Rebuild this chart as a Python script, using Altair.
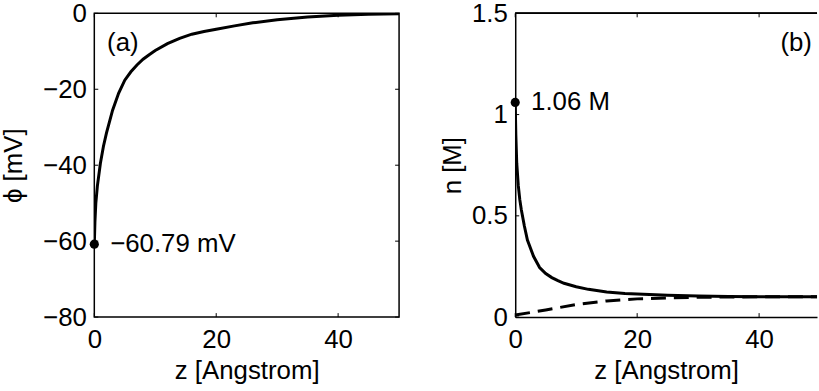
import altair as alt
import pandas as pd

# ---- data ----
phi_z = [0, 0.1, 0.25, 0.5, 1, 1.5, 2, 3, 4, 5, 6, 7, 8, 9, 10, 12, 14, 16, 18, 20, 23, 26, 30, 35, 40, 45, 50]
phi_v = [-60.79, -55, -50, -45.5, -39.5, -35, -31.5, -25.5, -21, -17.6, -15.4, -13.6, -12.1, -10.9, -9.8,
         -8.0, -6.6, -5.5, -4.8, -4.2, -3.3, -2.5, -1.7, -0.95, -0.5, -0.25, -0.12]

n_z = [0, 0.1, 0.25, 0.5, 0.75, 1, 1.5, 2, 3, 4, 5, 6, 7, 8, 10, 12, 15, 18, 20, 25, 30, 35, 40, 50]
n_solid = [1.06, 0.9, 0.76, 0.65, 0.58, 0.53, 0.45, 0.38, 0.30, 0.245, 0.215, 0.195, 0.18, 0.167,
           0.15, 0.137, 0.124, 0.117, 0.114, 0.108, 0.104, 0.102, 0.101, 0.1]
nd_z = [0, 5, 10, 15, 20, 25, 30, 35, 40, 50]
n_dashed = [0.01, 0.035, 0.062, 0.08, 0.09, 0.095, 0.098, 0.099, 0.1, 0.1]

x_ticks = [0, 20, 40]
phi_ticks = [-80, -60, -40, -20, 0]
n_ticks = [0, 0.5, 1, 1.5]

WL, WR, H = 307, 304, 306
FONT = "Liberation Sans"
FS = 26
TK = 4  # inward tick length

phi_df = pd.DataFrame({"z": phi_z, "phi": phi_v})
ns_df = pd.DataFrame({"z": n_z, "n": n_solid})
nd_df = pd.DataFrame({"z": nd_z, "n": n_dashed})
pt_a = pd.DataFrame({"z": [0], "phi": [-60.79], "t": ["\u221260.79 mV"]})
pt_b = pd.DataFrame({"z": [0], "n": [1.06], "t": ["1.06 M"]})
lab_a = pd.DataFrame({"z": [2.1], "phi": [-7.8], "t": ["(a)"]})
lab_b = pd.DataFrame({"z": [43.5], "n": [1.353], "t": ["(b)"]})
xt_df = pd.DataFrame({"v": x_ticks})
pt_df = pd.DataFrame({"v": phi_ticks})
nt_df = pd.DataFrame({"v": n_ticks})

xscaleL = alt.Scale(domain=[0, 50], nice=False, zero=False)
xscaleR = alt.Scale(domain=[0, 49.5], nice=False, zero=False)
yscaleL = alt.Scale(domain=[-80, 0], nice=False)
yscaleR = alt.Scale(domain=[0, 1.5], nice=False)

def xaxis(domain):
    return alt.Axis(values=x_ticks, title="z [Angstrom]", grid=False, ticks=False, domain=domain,
                    domainColor="black", domainWidth=1.5, labelFlush=False, labelPadding=10,
                    titlePadding=5, labelFont=FONT, titleFont=FONT, labelFontSize=FS,
                    titleFontSize=FS, titleFontWeight="normal", labelColor="black", titleColor="black")

def yaxis(vals, title, fmt, tpad, domain):
    return alt.Axis(values=vals, title=title, grid=False, ticks=False, domain=domain, format=fmt,
                    domainColor="black", domainWidth=1.5, labelPadding=8, titlePadding=tpad,
                    labelFont=FONT, titleFont=FONT, labelFontSize=FS, titleFontSize=FS,
                    titleFontWeight="normal", labelColor="black", titleColor="black")

# ---------- panel (a) ----------
AXA_X = xaxis(False)
AXA_Y = yaxis(phi_ticks, "\u03d5 [mV]", "d", 16, False)
XA = alt.X("z:Q", scale=xscaleL, axis=AXA_X)
YA = alt.Y("phi:Q", scale=yscaleL, axis=AXA_Y)

a_line = alt.Chart(phi_df).mark_line(color="black", strokeWidth=3, clip=True).encode(x=XA, y=YA)
a_pt = alt.Chart(pt_a).mark_point(filled=True, color="black", size=85, opacity=1).encode(x=XA, y=YA)
a_txt = alt.Chart(pt_a).mark_text(align="left", baseline="middle", dx=16, font=FONT, fontSize=FS,
                                   color="black").encode(x=XA, y=YA, text="t:N")
a_lab = alt.Chart(lab_a).mark_text(align="left", baseline="middle", font=FONT, fontSize=FS,
                                   color="black").encode(x=XA, y=YA, text="t:N")
XTL = alt.X("v:Q", scale=xscaleL, axis=AXA_X)
YTL = alt.Y("v:Q", scale=yscaleL, axis=AXA_Y)
a_tb = alt.Chart(xt_df).mark_rule(color="black", strokeWidth=1).encode(x=XTL, y=alt.value(H), y2=alt.value(H - TK))
a_tt = alt.Chart(xt_df).mark_rule(color="black", strokeWidth=1).encode(x=XTL, y=alt.value(0), y2=alt.value(TK))
a_tl = alt.Chart(pt_df).mark_rule(color="black", strokeWidth=1).encode(y=YTL, x=alt.value(0), x2=alt.value(TK))
a_tr = alt.Chart(pt_df).mark_rule(color="black", strokeWidth=1).encode(y=YTL, x=alt.value(WL), x2=alt.value(WL - TK))

panel_a = alt.layer(a_tb, a_tt, a_tl, a_tr, a_line, a_pt, a_txt, a_lab).properties(
    width=WL, height=H, view=alt.ViewBackground(stroke="black", strokeWidth=1.5))

# ---------- panel (b) ----------
AXB_X = xaxis(True)
AXB_Y = yaxis(n_ticks, "n [M]", "~g", 6, True)
XB = alt.X("z:Q", scale=xscaleR, axis=AXB_X)
YB = alt.Y("n:Q", scale=yscaleR, axis=AXB_Y)

b_line = alt.Chart(ns_df).mark_line(color="black", strokeWidth=3, clip=True).encode(x=XB, y=YB)
b_dash = alt.Chart(nd_df).mark_line(color="black", strokeWidth=3, strokeDash=[15, 8], clip=True).encode(x=XB, y=YB)
b_pt = alt.Chart(pt_b).mark_point(filled=True, color="black", size=85, opacity=1).encode(x=XB, y=YB)
b_txt = alt.Chart(pt_b).mark_text(align="left", baseline="middle", dx=16, font=FONT, fontSize=FS,
                                   color="black").encode(x=XB, y=YB, text="t:N")
b_lab = alt.Chart(lab_b).mark_text(align="left", baseline="middle", font=FONT, fontSize=FS,
                                   color="black").encode(x=XB, y=YB, text="t:N")
XTR = alt.X("v:Q", scale=xscaleR, axis=AXB_X)
YTR = alt.Y("v:Q", scale=yscaleR, axis=AXB_Y)
b_tb = alt.Chart(xt_df).mark_rule(color="black", strokeWidth=1).encode(x=XTR, y=alt.value(H), y2=alt.value(H - TK))
b_tt = alt.Chart(xt_df).mark_rule(color="black", strokeWidth=1).encode(x=XTR, y=alt.value(0), y2=alt.value(TK))
b_tl = alt.Chart(nt_df).mark_rule(color="black", strokeWidth=1).encode(y=YTR, x=alt.value(0), x2=alt.value(TK))
b_top = alt.Chart(xt_df).mark_rule(color="black", strokeWidth=1.5).encode(
    x=alt.value(0), x2=alt.value(WR), y=alt.value(0))

panel_b = alt.layer(b_tb, b_tt, b_tl, b_top, b_dash, b_line, b_pt, b_txt, b_lab).properties(
    width=WR, height=H, view=alt.ViewBackground(stroke="transparent"))

chart = alt.hconcat(panel_a, panel_b, spacing=38).properties(
    padding={"left": 0, "top": -2, "right": 0, "bottom": 0},
    background="white",
).configure_view(stroke="black")

chart.save("out.html", embed_options={"renderer": "svg", "actions": False})
